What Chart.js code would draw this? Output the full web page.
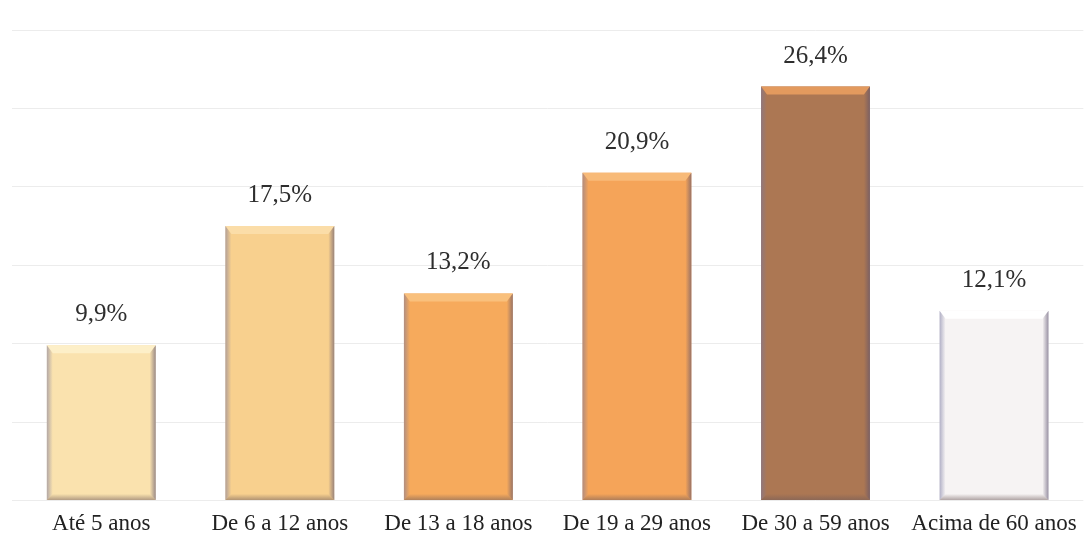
<!DOCTYPE html>
<html><head><meta charset="utf-8">
<script src="https://cdn.jsdelivr.net/npm/chart.js@4.4.1/dist/chart.umd.min.js"></script>
<style>html,body{margin:0;padding:0;background:#fff;}#wrap{width:1087px;height:548px;}</style>
</head><body><div id="wrap"><canvas id="c" width="1087" height="548"></canvas></div>
<script>
const categories = ["Até 5 anos","De 6 a 12 anos","De 13 a 18 anos","De 19 a 29 anos","De 30 a 59 anos","Acima de 60 anos"];
const values = [9.9, 17.5, 13.2, 20.9, 26.4, 12.1];
const barColors = ["#FAE2AE","#F8D08E","#F6AA5C","#F5A459","#AC7753","#F6F3F3"];
const bevelColors = ["#FDEFC8","#FBDDA8","#F9C07C","#F8BA78","#E39A5E","#FFFFFF"];

const valueLabels = {
  id:'valueLabels',
  afterDatasetsDraw(chart){
    const ctx = chart.ctx;
    const meta = chart.getDatasetMeta(0);
    ctx.save();
    ctx.font = '25px "Liberation Serif", "Times New Roman", serif';
    ctx.fillStyle = '#2e2e2e';
    ctx.textAlign = 'center';
    ctx.textBaseline = 'bottom';
    meta.data.forEach((el,i)=>{
      ctx.fillText(values[i].toFixed(1).replace('.',',')+'%', el.x, el.y - 18);
    });
    ctx.restore();
  }
};

const bevel = {
  id:'bevel',
  afterDatasetsDraw(chart){
    const ctx = chart.ctx;
    const meta = chart.getDatasetMeta(0);
    ctx.save();
    meta.data.forEach((el,i)=>{
      const l = el.x - el.width/2, r = el.x + el.width/2, t = el.y, b = el.base;
      const e = 6;
      ctx.fillStyle = bevelColors[i];
      ctx.beginPath();
      ctx.moveTo(l,t); ctx.lineTo(r,t); ctx.lineTo(r-e,t+e+2); ctx.lineTo(l+e,t+e+2); ctx.closePath(); ctx.fill();
      let g = ctx.createLinearGradient(l,0,l+e,0);
      g.addColorStop(0,'rgba(120,120,160,0.55)'); g.addColorStop(1,'rgba(120,120,160,0)');
      ctx.fillStyle = g;
      ctx.beginPath();
      ctx.moveTo(l,t); ctx.lineTo(l+e,t+e+2); ctx.lineTo(l+e,b-e); ctx.lineTo(l,b); ctx.closePath(); ctx.fill();
      g = ctx.createLinearGradient(r-e,0,r,0);
      g.addColorStop(0,'rgba(90,80,110,0)'); g.addColorStop(1,'rgba(90,80,110,0.6)');
      ctx.fillStyle = g;
      ctx.beginPath();
      ctx.moveTo(r,t); ctx.lineTo(r-e,t+e+2); ctx.lineTo(r-e,b-e); ctx.lineTo(r,b); ctx.closePath(); ctx.fill();
      g = ctx.createLinearGradient(0,b-e,0,b);
      g.addColorStop(0,'rgba(110,90,90,0)'); g.addColorStop(1,'rgba(110,90,90,0.5)');
      ctx.fillStyle = g;
      ctx.beginPath();
      ctx.moveTo(l,b); ctx.lineTo(l+e,b-e); ctx.lineTo(r-e,b-e); ctx.lineTo(r,b); ctx.closePath(); ctx.fill();
    });
    ctx.restore();
  }
};

new Chart(document.getElementById('c'),{
  type:'bar',
  data:{labels:categories,datasets:[{data:values,backgroundColor:barColors,borderWidth:0,categoryPercentage:0.61,barPercentage:1}]},
  options:{
    responsive:false,animation:false,
    layout:{padding:{left:12,right:3,top:30,bottom:0}},
    plugins:{legend:{display:false},tooltip:{enabled:false}},
    scales:{
      x:{grid:{display:false,drawTicks:false},border:{display:false},
         ticks:{padding:10,color:'#222',font:{family:'"Liberation Serif", "Times New Roman", serif',size:23}}},
      y:{min:0,max:30,ticks:{display:false,stepSize:5},border:{display:false},
         grid:{color:'#ececec',lineWidth:1,drawTicks:false}}
    }
  },
  plugins:[bevel,valueLabels]
});
</script></body></html>
